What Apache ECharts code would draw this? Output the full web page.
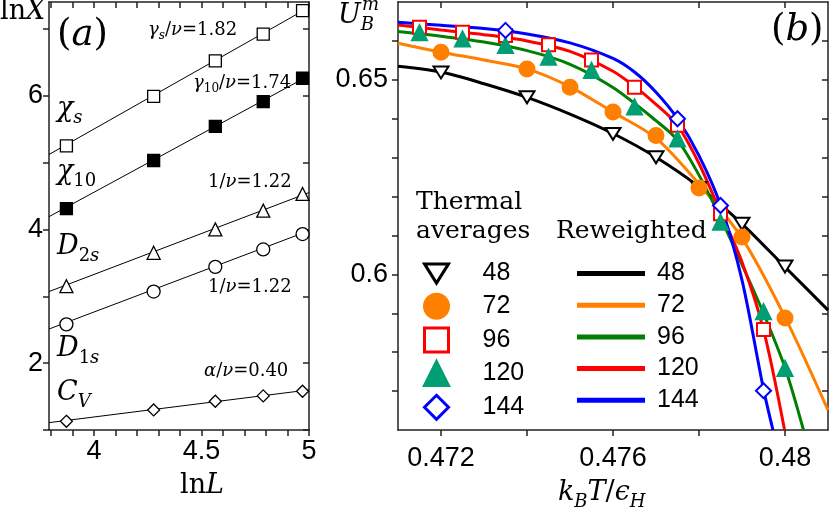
<!DOCTYPE html>
<html>
<head>
<meta charset="utf-8">
<script src="https://cdn.jsdelivr.net/npm/echarts@6/dist/echarts.min.js"></script>
<style>
html, body { margin: 0; padding: 0; background: #fff; }
#chart { width: 830px; height: 513px; }
</style>
</head>
<body>
<div id="chart"></div>
<script>
// ---- panel (a): lnX against lnL ----
const lnL = [3.871, 4.277, 4.564, 4.787, 4.970];
const chiS = [5.25, 5.99, 6.52, 6.92, 7.27];
const chi10 = [4.31, 5.03, 5.54, 5.91, 6.26];
const d2s = [3.15, 3.65, 4.00, 4.28, 4.53];
const d1s = [2.58, 3.07, 3.44, 3.70, 3.93];
const cv = [1.13, 1.30, 1.43, 1.51, 1.58];

// fitted straight lines, read at both ends of the axis
const fitL = [3.79, 5.0];
const chiSFit = [5.12, 7.32];
const chi10Fit = [4.19, 6.30];
const d2sFit = [3.07, 4.55];
const d1sFit = [2.51, 3.98];
const cvFit = [1.11, 1.60];

const ticksAx = [3.8, 3.9, 4.0, 4.1, 4.2, 4.3, 4.4, 4.5, 4.6, 4.7, 4.8, 4.9, 5.0];
const labelsAx = [4, 4.5, 5];
const ticksAy = [1, 2, 3, 4, 5, 6, 7];
const labelsAy = [2, 4, 6];

// ---- panel (b): U_B^m against k_B T / eps_H ----
// thermal averages (points)
const t48 = [0.472, 0.474, 0.476, 0.477, 0.478, 0.479, 0.480];
const u48 = [0.6519, 0.6455, 0.6361, 0.6301, 0.6222, 0.6130, 0.6020];
const t72 = [0.472, 0.474, 0.475, 0.476, 0.477, 0.478, 0.479, 0.480];
const u72 = [0.6571, 0.6528, 0.6481, 0.6417, 0.6357, 0.6222, 0.6096, 0.5888];
const t96 = [0.4715, 0.4725, 0.4735, 0.4745, 0.4755, 0.4765, 0.4775, 0.4785, 0.4795];
const u96 = [0.6635, 0.6622, 0.6614, 0.6590, 0.6551, 0.6481, 0.6383, 0.6156, 0.5858];
const t120 = [0.4715, 0.4725, 0.4735, 0.4745, 0.4755, 0.4765, 0.4775, 0.4785, 0.4795, 0.480];
const u120 = [0.6621, 0.6605, 0.6588, 0.6558, 0.6524, 0.6430, 0.6348, 0.6134, 0.5904, 0.5758];
const t144 = [0.4735, 0.4775, 0.4785, 0.4795];
const u144 = [0.6627, 0.6400, 0.6177, 0.5701];

// reweighted (curves)
const rt48 = [0.471, 0.472, 0.473, 0.474, 0.475, 0.476, 0.477, 0.478, 0.479, 0.480, 0.481];
const ru48 = [0.6535, 0.6520, 0.6490, 0.6455, 0.6412, 0.6362, 0.6301, 0.6225, 0.6130, 0.6019, 0.5908];
const rt72 = [0.471, 0.472, 0.473, 0.474, 0.475, 0.476, 0.477, 0.478, 0.479, 0.480, 0.481];
const ru72 = [0.6594, 0.6571, 0.6551, 0.6528, 0.6482, 0.6417, 0.6350, 0.6232, 0.6093, 0.5890, 0.5651];
const rt96 = [0.471, 0.472, 0.473, 0.474, 0.475, 0.476, 0.477, 0.4775, 0.478, 0.4785, 0.479, 0.4795, 0.480, 0.48043];
const ru96 = [0.6624, 0.6612, 0.6597, 0.6575, 0.6540, 0.6480, 0.6395, 0.6345, 0.6255, 0.6145, 0.6025, 0.5900, 0.5760, 0.5600];
const rt120 = [0.471, 0.472, 0.473, 0.474, 0.475, 0.476, 0.4765, 0.477, 0.4775, 0.478, 0.4785, 0.479, 0.4795, 0.47999];
const ru120 = [0.6641, 0.6628, 0.6616, 0.6600, 0.6573, 0.6522, 0.6483, 0.6437, 0.6383, 0.6285, 0.6160, 0.6032, 0.5858, 0.5600];
const rt144 = [0.471, 0.472, 0.473, 0.474, 0.475, 0.476, 0.4765, 0.477, 0.4775, 0.478, 0.4785, 0.479, 0.4795, 0.47972];
const ru144 = [0.6648, 0.6640, 0.6632, 0.6618, 0.6595, 0.6555, 0.6520, 0.6468, 0.6400, 0.6305, 0.6178, 0.5985, 0.5705, 0.5600];

const ticksBx = [0.472, 0.474, 0.476, 0.478, 0.480];
const labelsBx = [0.472, 0.476, 0.48];
const ticksBy = [0.57, 0.58, 0.59, 0.60, 0.61, 0.62, 0.63, 0.64, 0.65, 0.66];
const labelsBy = [0.6, 0.65];

const sizes = ['48', '72', '96', '120', '144'];

const SANS = "'Liberation Sans', Arial, sans-serif";
const MATH = "'DejaVu Serif', serif";
const AXIS = '#222';

function pairs(xs, ys) {
  return xs.map((x, i) => [x, ys[i]]);
}

function axis(grid, pos, min, max, ticks, labels, margin) {
  const outer = (pos === 'bottom' || pos === 'left');
  return {
    type: 'value', gridIndex: grid, position: pos, min: min, max: max,
    axisLine: { show: true, onZero: false, lineStyle: { color: AXIS, width: 1.5 } },
    axisTick: { show: true, inside: !outer, length: 6, customValues: ticks,
      lineStyle: { color: AXIS, width: 1.5 } },
    axisLabel: { show: outer, customValues: labels, margin: margin,
      fontFamily: SANS, fontSize: 27, color: '#000' },
    splitLine: { show: false }
  };
}

// rich text for the math labels: main glyphs on top, subscripts pushed down
function rich(fs) {
  const sub = Math.round(fs * 0.68);
  return {
    i: { fontFamily: MATH, fontStyle: 'italic', fontSize: fs, lineHeight: fs, verticalAlign: 'top' },
    r: { fontFamily: MATH, fontSize: fs, lineHeight: fs, verticalAlign: 'top' },
    s: { fontFamily: MATH, fontStyle: 'italic', fontSize: sub, lineHeight: sub,
      padding: [Math.round(fs * 0.5), 0, 0, 0], verticalAlign: 'top' },
    sr: { fontFamily: MATH, fontSize: sub, lineHeight: sub,
      padding: [Math.round(fs * 0.5), 0, 0, 0], verticalAlign: 'top' }
  };
}
function label(x, baseline, text, fs) {
  return { type: 'text', x: x, y: baseline - 0.84 * fs, silent: true, z: 10,
    style: { text: text, rich: rich(fs), align: 'left', verticalAlign: 'top', fill: '#000' } };
}

function fitLine(ys) {
  return { type: 'line', xAxisIndex: 0, yAxisIndex: 0, data: pairs(fitL, ys),
    symbol: 'none', z: 2, lineStyle: { color: '#000', width: 1 } };
}
function pointsA(ys, symbol, size, filled) {
  return { type: 'scatter', xAxisIndex: 0, yAxisIndex: 0, data: pairs(lnL, ys),
    symbol: symbol, symbolSize: size, z: 3,
    itemStyle: { color: filled ? '#000' : '#fff', borderColor: '#000', borderWidth: 1.3, opacity: 1 } };
}

const triDown = 'path://M0,0 L10,0 L5,8 Z';
const thermal = [
  { t: t48, u: u48, symbol: triDown, size: 15, color: '#fff', border: '#000' },
  { t: t72, u: u72, symbol: 'circle', size: 15, color: '#ff8000', border: '#ff8000' },
  { t: t96, u: u96, symbol: 'rect', size: 13, color: '#fff', border: '#ff0000' },
  { t: t120, u: u120, symbol: 'triangle', size: 15, color: '#009e73', border: '#009e73' },
  { t: t144, u: u144, symbol: 'diamond', size: 15, color: '#fff', border: '#0000ff' }
];
const reweighted = [
  { t: rt48, u: ru48, color: '#000000' },
  { t: rt72, u: ru72, color: '#ff8000' },
  { t: rt96, u: ru96, color: '#008000' },
  { t: rt120, u: ru120, color: '#ff0000' },
  { t: rt144, u: ru144, color: '#0000ff' }
];

const series = [
  fitLine(chiSFit), fitLine(chi10Fit), fitLine(d2sFit), fitLine(d1sFit), fitLine(cvFit),
  pointsA(chiS, 'rect', 12, false),
  pointsA(chi10, 'rect', 12, true),
  pointsA(d2s, 'triangle', 13, false),
  pointsA(d1s, 'circle', 13, false),
  pointsA(cv, 'diamond', 12, false)
];
reweighted.forEach((r, k) => {
  series.push({ type: 'line', name: 'R' + sizes[k], xAxisIndex: 2, yAxisIndex: 2,
    data: pairs(r.t, r.u), symbol: 'none', smooth: 0.3, z: 2,
    lineStyle: { color: r.color, width: 3 }, itemStyle: { color: r.color } });
});
thermal.forEach((p, k) => {
  series.push({ type: 'scatter', name: 'T' + sizes[k], xAxisIndex: 2, yAxisIndex: 2,
    data: pairs(p.t, p.u), symbol: p.symbol, symbolSize: p.size, symbolKeepAspect: true, z: 3,
    itemStyle: { color: p.color, borderColor: p.border, borderWidth: 2, opacity: 1 } });
});

const chart = echarts.init(document.getElementById('chart'));
chart.setOption({
  animation: false,
  backgroundColor: '#fff',
  grid: [
    { left: 49, top: 2, width: 260, height: 428, outerBoundsMode: 'none' },
    { left: 398, top: 2, width: 430, height: 428, outerBoundsMode: 'none' }
  ],
  xAxis: [
    axis(0, 'bottom', 3.79, 5.0, ticksAx, labelsAx, 8),
    axis(0, 'top', 3.79, 5.0, ticksAx, labelsAx, 8),
    axis(1, 'bottom', 0.471, 0.481, ticksBx, labelsBx, 15),
    axis(1, 'top', 0.471, 0.481, ticksBx, labelsBx, 15)
  ],
  yAxis: [
    axis(0, 'left', 1.0, 7.4, ticksAy, labelsAy, 6),
    axis(0, 'right', 1.0, 7.4, ticksAy, labelsAy, 6),
    axis(1, 'left', 0.56, 0.67, ticksBy, labelsBy, 10),
    axis(1, 'right', 0.56, 0.67, ticksBy, labelsBy, 10)
  ],
  legend: [
    { data: sizes.map(s => 'T' + s), orient: 'vertical', left: 423, top: 261, padding: 0,
      itemWidth: 24, itemHeight: 24, itemGap: 6.7, selectedMode: false,
      formatter: n => n.slice(1), itemStyle: { borderWidth: 3 },
      textStyle: { fontFamily: SANS, fontSize: 25, color: '#000', padding: [0, 0, 0, 29] } },
    { data: sizes.map(s => 'R' + s), orient: 'vertical', left: 577, top: 261, padding: 0,
      icon: 'rect', itemWidth: 68, itemHeight: 5, itemGap: 6.7, selectedMode: false,
      formatter: n => n.slice(1),
      textStyle: { fontFamily: SANS, fontSize: 25, color: '#000', padding: [0, 0, 0, 7],
        lineHeight: 24 } }
  ],
  graphic: [
    label(0, 21, '{r|ln}{i|X}', 27),
    label(180, 495, '{r|ln}{i|L}', 27),
    label(57, 48, '{r|(}{i|a}{r|)}', 37),
    label(771, 43, '{r|(}{i|b}{r|)}', 37),
    label(57, 118, '{i|χ}{s|s}', 27),
    label(57, 181, '{i|χ}{sr|10}', 27),
    label(57, 256, '{i|D}{sr|2}{s|s}', 27),
    label(57, 358, '{i|D}{sr|1}{s|s}', 27),
    label(57, 402, '{i|C}{s|V}', 27),
    label(148, 36, '{i|γ}{s|s}{r|/}{i|ν}{r|=1.82}', 18),
    label(193, 89, '{i|γ}{sr|10}{r|/}{i|ν}{r|=1.74}', 18),
    label(208, 188, '{r|1/}{i|ν}{r|=1.22}', 18),
    label(208, 293, '{r|1/}{i|ν}{r|=1.22}', 18),
    label(204, 377, '{i|α}{r|/}{i|ν}{r|=0.40}', 18),
    label(338, 25, '{i|U}{s|B}', 27),
    label(362, 11, '{i|m}', 18),
    label(558, 502, '{i|k}{s|B}{i|T}{r|/}{i|ϵ}{s|H}', 27),
    label(416, 211, '{r|Thermal}', 25),
    label(416, 240, '{r|averages}', 25),
    label(556, 240, '{r|Reweighted}', 25)
  ],
  series: series
});
</script>
</body>
</html>
